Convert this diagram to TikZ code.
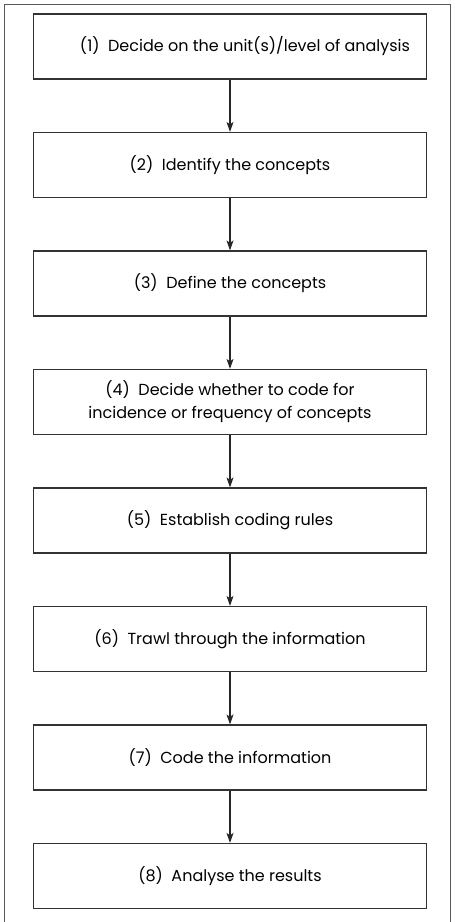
\documentclass[tikz,border=0pt]{standalone}
\usepackage{fontspec}
\setmainfont{Poppins}
\usetikzlibrary{arrows.meta}
\begin{document}
\begin{tikzpicture}[x=1pt,y=-1pt,
  stepbox/.style={draw=black!80,line width=1.2pt,minimum width=393pt,minimum height=65pt,
    align=center,inner sep=0pt,font=\fontsize{16}{23}\selectfont},
  flow/.style={draw=black!85,line width=1.1pt,-{Stealth[length=10pt,width=7pt,inset=2.5pt]}}]
\useasboundingbox (0,0) rectangle (455,922);
\draw[draw=black!65,line width=1.3pt] (4.5,4.5) rectangle (450.5,930);
\node[stepbox] (s1) at (230,46.5) {\hspace*{30pt}(1)\ \ Decide on the unit(s)/level of analysis};
\node[stepbox] (s2) at (230,165) {(2)\ \ Identify the concepts};
\node[stepbox] (s3) at (230,283.5) {(3)\ \ Define the concepts};
\node[stepbox] (s4) at (230,402) {(4)\ \ Decide whether to code for\\incidence or frequency of concepts};
\node[stepbox] (s5) at (230,520.5) {(5)\ \ Establish coding rules};
\node[stepbox] (s6) at (230,639) {(6)\ \ Trawl through the information};
\node[stepbox] (s7) at (230,757.5) {(7)\ \ Code the information};
\node[stepbox] (s8) at (230,876) {(8)\ \ Analyse the results};
\foreach \a/\b in {s1/s2,s2/s3,s3/s4,s4/s5,s5/s6,s6/s7,s7/s8}
  \draw[flow] (\a.south) -- (\b.north);
\end{tikzpicture}
\end{document}
